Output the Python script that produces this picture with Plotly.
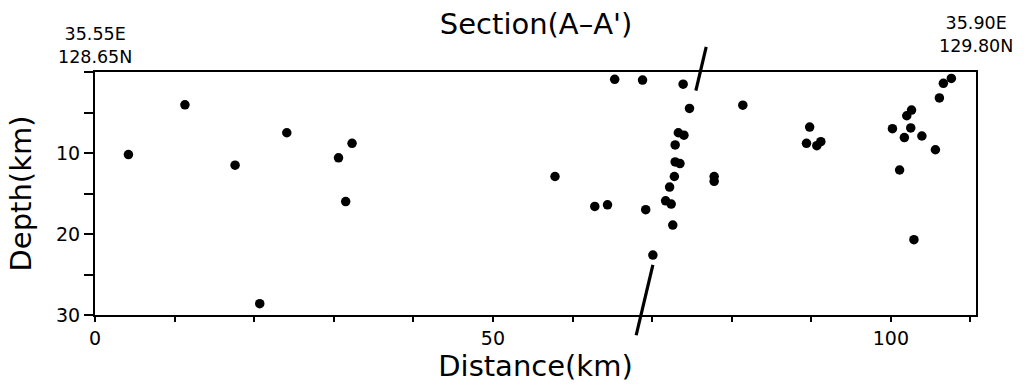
import plotly.graph_objects as go

# ---- data ----
dist_km = [4.2, 11.3, 17.6, 24.1, 30.6, 32.3, 31.5, 20.7,
           57.8, 62.8, 64.4, 65.3, 68.8, 69.2, 70.1,
           71.7, 72.4, 72.2, 72.6, 72.8, 72.9, 72.9, 73.5, 73.3, 74.0, 73.9, 74.7,
           77.8, 77.8, 81.4,
           89.8, 89.4, 90.7, 91.2,
           100.2, 102.0, 102.6, 102.5, 101.7, 103.9, 105.6, 101.1, 102.9,
           106.1, 106.6, 107.6]
depth_km = [10.2, 4.05, 11.5, 7.5, 10.6, 8.8, 16.0, 28.6,
            12.9, 16.6, 16.4, 0.9, 1.0, 17.0, 22.6,
            15.9, 16.3, 14.2, 18.9, 12.9, 9.0, 11.1, 11.3, 7.5, 7.8, 1.5, 4.5,
            12.9, 13.5, 4.1,
            6.8, 8.8, 9.1, 8.6,
            7.0, 5.4, 4.7, 6.9, 8.1, 7.9, 9.6, 12.1, 20.7,
            3.2, 1.4, 0.8]

fault_upper_x = [76.8, 75.5]
fault_upper_depth = [-3.1, 2.3]
fault_lower_x = [70.1, 68.0]
fault_lower_depth = [23.8, 32.5]

x_ticks = [0, 10, 20, 30, 40, 50, 60, 70, 80, 90, 100, 110]
x_ticklabels = ["0", "", "", "", "", "50", "", "", "", "", "100", ""]
y_ticks = [0, 5, 10, 15, 20, 25, 30]
y_ticklabels = ["", "", "10", "", "20", "", "30"]

left_end_label = ["35.55E", "128.65N"]
right_end_label = ["35.90E", "129.80N"]

X_RANGE = [0, 110.7]
Y_RANGE = [30, 0]

FONT = "DejaVu Sans"


def depth_to_domain(d):
    # position along the y axis domain (0 = bottom, 1 = top) for a depth value
    return (Y_RANGE[0] - d) / (Y_RANGE[0] - Y_RANGE[1])


fig = go.Figure()
fig.add_trace(go.Scatter(
    x=dist_km, y=depth_km, mode="markers",
    marker=dict(color="black", size=9.5, line=dict(width=0)),
    cliponaxis=False, hoverinfo="x+y"))

for fx, fd in ((fault_upper_x, fault_upper_depth), (fault_lower_x, fault_lower_depth)):
    fig.add_shape(type="line", xref="x", yref="y domain",
                  x0=fx[0], x1=fx[1],
                  y0=depth_to_domain(fd[0]), y1=depth_to_domain(fd[1]),
                  line=dict(color="black", width=3.2), layer="above")

annos = [
    dict(text="<br>".join(left_end_label), x=X_RANGE[0], xref="x", y=1, yref="paper",
         yanchor="bottom", xanchor="center", yshift=3,
         showarrow=False, font=dict(family=FONT, size=17.5, color="black")),
    dict(text="<br>".join(right_end_label), x=X_RANGE[1], xref="x", y=1, yref="paper",
         yanchor="bottom", xanchor="center", yshift=14,
         showarrow=False, font=dict(family=FONT, size=17.5, color="black")),
]

fig.update_layout(
    width=1026, height=388,
    margin=dict(l=95, r=50, t=72, b=73, autoexpand=False),
    paper_bgcolor="white", plot_bgcolor="white",
    showlegend=False,
    title=dict(text="Section(A–A')", x=0.5225, xanchor="center",
               y=1 - 24 / 388, yanchor="middle",
               font=dict(family=FONT, size=29, color="black")),
    annotations=annos,
    xaxis=dict(range=X_RANGE, tickmode="array", tickvals=x_ticks, ticktext=x_ticklabels,
               ticks="outside", ticklen=5, tickwidth=2, tickcolor="black",
               showline=True, mirror=True, linewidth=2, linecolor="black",
               showgrid=False, zeroline=False, automargin=False,
               tickfont=dict(family=FONT, size=19, color="black"),
               title=dict(text="Distance(km)", standoff=0,
                          font=dict(family=FONT, size=29, color="black"))),
    yaxis=dict(range=Y_RANGE, tickmode="array", tickvals=y_ticks, ticktext=y_ticklabels,
               ticks="outside", ticklen=9, tickwidth=2, tickcolor="black",
               showline=True, mirror=True, linewidth=2, linecolor="black",
               showgrid=False, zeroline=False, automargin=False,
               tickfont=dict(family=FONT, size=19, color="black"),
               title=dict(text="Depth(km)", standoff=16,
                          font=dict(family=FONT, size=29, color="black"))),
)

fig.write_html("out.html", config={"displayModeBar": False},
               post_script="document.body.style.margin='0px';document.body.style.overflow='hidden';")
